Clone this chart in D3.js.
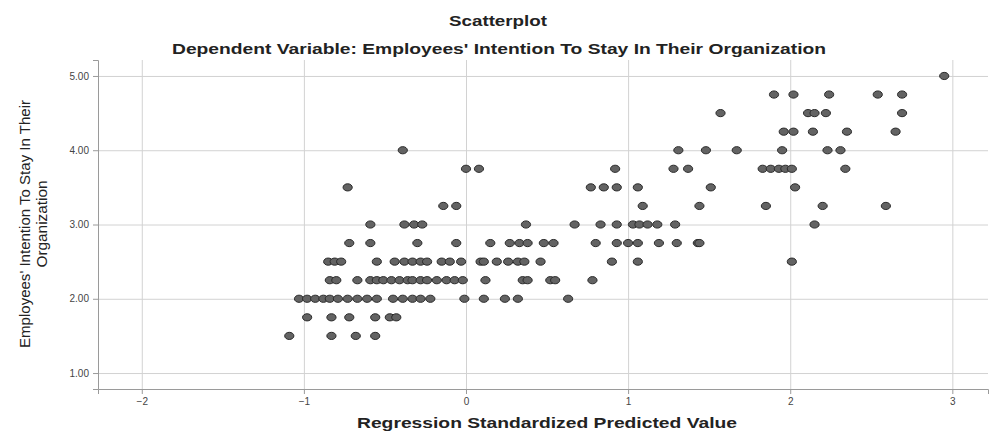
<!DOCTYPE html>
<html>
<head>
<meta charset="utf-8">
<script src="https://cdn.jsdelivr.net/npm/d3@7"></script>
<style>
  body { margin: 0; background: #fff; }
  svg { display: block; }
  text { font-family: "Liberation Sans", Arial, sans-serif; }
</style>
</head>
<body>
<svg id="chart" width="992" height="433"></svg>
<script>
// Axis ticks
const xTicks = [-2, -1, 0, 1, 2, 3];
const yTicks = [1, 2, 3, 4, 5];

// Observed intention scores (one row of points per level)
const intentionLevels = [1.5, 1.75, 2.0, 2.25, 2.5, 2.75, 3.0, 3.25, 3.5, 3.75, 4.0, 4.25, 4.5, 4.75, 5.0];

// Regression standardized predicted values for the cases at each level
const predicted150 = [-1.09, -0.83, -0.68, -0.56];
const predicted175 = [-0.98, -0.83, -0.72, -0.56, -0.47, -0.43];
const predicted200 = [-1.03, -0.98, -0.93, -0.88, -0.84, -0.79, -0.73, -0.67, -0.61, -0.55,
                      -0.45, -0.39, -0.33, -0.28, -0.22, -0.01, 0.11, 0.24, 0.32, 0.63];
const predicted225 = [-0.84, -0.80, -0.67, -0.59, -0.55, -0.51, -0.46, -0.41, -0.36, -0.33,
                      -0.28, -0.24, -0.18, -0.12, -0.07, -0.02, 0.12, 0.35, 0.38, 0.52, 0.55, 0.78];
const predicted250 = [-0.85, -0.81, -0.77, -0.55, -0.44, -0.38, -0.33, -0.28, -0.24, -0.15,
                      -0.10, -0.03, 0.09, 0.11, 0.19, 0.26, 0.32, 0.36, 0.46, 0.90, 1.06, 2.01];
const predicted275 = [-0.72, -0.59, -0.30, -0.06, 0.15, 0.27, 0.33, 0.38, 0.48, 0.54,
                      0.80, 0.93, 1.00, 1.06, 1.19, 1.30, 1.43, 1.44];
const predicted300 = [-0.59, -0.38, -0.32, -0.27, 0.37, 0.67, 0.83, 0.93, 1.03, 1.07,
                      1.12, 1.18, 1.29, 2.15];
const predicted325 = [-0.14, -0.06, 1.09, 1.44, 1.85, 2.20, 2.59];
const predicted350 = [-0.73, 0.77, 0.85, 0.93, 1.06, 1.51, 2.03];
const predicted375 = [0.00, 0.08, 0.92, 1.28, 1.37, 1.83, 1.88, 1.93, 1.97, 2.01, 2.34];
const predicted400 = [-0.39, 1.31, 1.48, 1.67, 1.95, 2.23, 2.31];
const predicted425 = [1.96, 2.02, 2.14, 2.35, 2.65];
const predicted450 = [1.57, 2.11, 2.15, 2.22, 2.69];
const predicted475 = [1.90, 2.02, 2.24, 2.54, 2.69];
const predicted500 = [2.95];

const predictedByLevel = [predicted150, predicted175, predicted200, predicted225, predicted250,
  predicted275, predicted300, predicted325, predicted350, predicted375, predicted400,
  predicted425, predicted450, predicted475, predicted500];

const points = [];
intentionLevels.forEach((lvl, i) => {
  predictedByLevel[i].forEach(p => points.push({ x: p, y: lvl }));
});

const svg = d3.select("#chart");
const plotLeft = 98, plotRight = 988, plotTop = 60, plotBottom = 389;

const x = d3.scaleLinear().domain([-2.27, 3.22]).range([plotLeft, plotRight]);
const y = d3.scaleLinear().domain([0.785, 5.215]).range([plotBottom, plotTop]);

// Gridlines
svg.append("g")
  .attr("transform", `translate(0,${plotBottom})`)
  .call(d3.axisBottom(x).tickValues(xTicks).tickSize(-(plotBottom - plotTop)).tickFormat(""))
  .call(g => g.select(".domain").remove())
  .call(g => g.selectAll("line").attr("stroke", "#d2d2d2"));

svg.append("g")
  .attr("transform", `translate(${plotLeft},0)`)
  .call(d3.axisLeft(y).tickValues(yTicks).tickSize(-(plotRight - plotLeft)).tickFormat(""))
  .call(g => g.select(".domain").remove())
  .call(g => g.selectAll("line").attr("stroke", "#d2d2d2"));

// Axes
const xAxis = svg.append("g")
  .attr("transform", `translate(0,${plotBottom})`)
  .call(d3.axisBottom(x).tickValues(xTicks).tickSize(5).tickPadding(4).tickFormat(d3.format("d")));
const yAxis = svg.append("g")
  .attr("transform", `translate(${plotLeft},0)`)
  .call(d3.axisLeft(y).tickValues(yTicks).tickSize(5).tickPadding(4).tickFormat(d3.format(".2f")));

[xAxis, yAxis].forEach(g => {
  g.select(".domain").attr("stroke", "#9a9a9a");
  g.selectAll(".tick line").attr("stroke", "#9a9a9a");
  g.selectAll(".tick text").attr("fill", "#444").style("font-size", "10px")
    .style("font-family", "'Liberation Sans', Arial, sans-serif");
});

// Points
svg.append("g").selectAll("ellipse")
  .data(points)
  .join("ellipse")
  .attr("cx", d => x(d.x))
  .attr("cy", d => y(d.y))
  .attr("rx", 4.6)
  .attr("ry", 3.6)
  .attr("fill", "#636363")
  .attr("stroke", "#2a2a2a")
  .attr("stroke-width", 1);

// Text helper: fixed width via textLength
function label(txt, cx, cy, size, weight, width, rotate) {
  const t = svg.append("text")
    .attr("text-anchor", "middle")
    .style("font-size", size + "px")
    .style("font-weight", weight)
    .attr("fill", "#222")
    .text(txt);
  if (width) t.attr("textLength", width).attr("lengthAdjust", "spacingAndGlyphs");
  t.attr("transform", `translate(${cx},${cy})` + (rotate ? " rotate(-90)" : ""));
  return t;
}

label("Scatterplot", 498, 26, 15, "bold", 98);
label("Dependent Variable: Employees' Intention To Stay In Their Organization", 499, 54, 15, "bold", 654);
label("Regression Standardized Predicted Value", 547, 428, 15, "bold", 380);
label("Employees' Intention To Stay In Their", 30, 224, 14, "normal", 248, true);
label("Organization", 47, 224, 14, "normal", 87, true);
</script>
</body>
</html>
